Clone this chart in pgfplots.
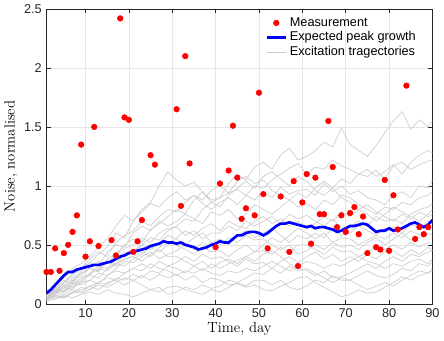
\documentclass[border=0pt]{standalone}
\usepackage{fontspec}
\usepackage{pgfplots}
\usepackage{pgfplotstable}
\pgfplotsset{compat=1.18}
\newfontfamily\arial{Liberation Sans}

\definecolor{trajgray}{RGB}{204,204,204}
\definecolor{gridgray}{RGB}{230,230,230}
\definecolor{framegray}{RGB}{38,38,38}

% measurements (day, noise)
\pgfplotstableread{
day  y
1    0.27
2    0.27
3    0.47
4    0.28
5    0.43
6    0.50
7    0.61
8    0.75
9    1.35
10   0.40
11   0.53
12   1.50
13   0.49
16   0.54
17   0.41
18   2.42
19   1.58
20   1.56
21   0.44
22   0.53
23   0.71
25   1.26
26   1.18
31   1.65
32   0.83
33   2.10
34   1.19
40   0.48
41   1.02
43   1.13
44   1.51
45   1.07
46   0.72
47   0.81
49   0.75
50   1.79
51   0.93
52   0.47
55   0.91
57   0.44
58   1.04
59   0.32
60   0.86
61   1.10
62   0.51
63   1.07
64   0.76
65   0.76
66   1.55
67   1.16
68   0.65
69   0.75
70   0.61
71   0.77
72   0.82
73   0.59
74   0.74
75   0.43
77   0.48
78   0.46
79   1.05
80   0.45
81   0.92
82   0.63
84   1.85
86   0.55
87   0.65
88   0.59
89   0.65
}\meas

% expected peak growth
\pgfplotstableread{
day y
1 0.09
2 0.12
3 0.16
4 0.20
5 0.24
6 0.27
7 0.27
8 0.29
9 0.30
10 0.31
11 0.32
12 0.33
13 0.33
14 0.34
15 0.35
16 0.36
17 0.38
18 0.40
19 0.41
20 0.43
21 0.44
22 0.45
23 0.46
24 0.47
25 0.49
26 0.50
27 0.51
28 0.53
29 0.52
30 0.52
31 0.51
32 0.52
33 0.50
34 0.49
35 0.48
36 0.46
37 0.47
38 0.48
39 0.50
40 0.51
41 0.53
42 0.52
43 0.52
44 0.55
45 0.58
46 0.58
47 0.60
48 0.61
49 0.61
50 0.60
51 0.58
52 0.60
53 0.63
54 0.66
55 0.68
56 0.68
57 0.69
58 0.68
59 0.67
60 0.66
61 0.65
62 0.66
63 0.64
64 0.65
65 0.65
66 0.64
67 0.63
68 0.61
69 0.62
70 0.64
71 0.66
72 0.66
73 0.67
74 0.68
75 0.67
76 0.64
77 0.61
78 0.62
79 0.62
80 0.64
81 0.62
82 0.63
83 0.64
84 0.66
85 0.68
86 0.69
87 0.67
88 0.65
89 0.67
90 0.71
}\mean

% excitation trajectories
\pgfplotstableread{
day t1 t2 t3 t4 t5 t6 t7 t8 t9 t10 t11 t12 t13 t14 t15 t16 t17 t18
1  .05 .08 .10 .06 .05 .08 .04 .06 .07 .03 .05 .04 .02 .05 .07 .04 .06 .03
3  .12 .13 .15 .10 .09 .11 .10 .08 .12 .06 .04 .06 .04 .07 .12 .08 .10 .07
5  .10 .20 .22 .18 .14 .16 .16 .12 .10 .10 .08 .05 .07 .06 .18 .14 .14 .05
7  .19 .17 .30 .24 .20 .14 .22 .18 .16 .14 .12 .10 .05 .10 .26 .20 .12 .09
9  .24 .28 .34 .30 .26 .22 .26 .16 .22 .18 .10 .12 .08 .09 .30 .18 .20 .14
11 .30 .35 .40 .35 .30 .25 .30 .20 .25 .20 .15 .15 .10 .12 .38 .26 .24 .12
13 .27 .42 .48 .32 .36 .30 .28 .26 .30 .17 .18 .12 .08 .16 .44 .32 .22 .18
15 .38 .48 .55 .44 .34 .36 .36 .24 .28 .24 .16 .18 .12 .14 .40 .30 .30 .22
17 .42 .60 .66 .50 .42 .34 .32 .30 .34 .28 .22 .20 .09 .18 .52 .38 .34 .20
19 .50 .56 .75 .48 .47 .42 .38 .36 .38 .26 .20 .16 .08 .22 .58 .44 .32 .26
21 .55 .70 .70 .60 .50 .45 .40 .35 .40 .30 .25 .20 .06 .20 .62 .42 .38 .30
23 .52 .80 .78 .66 .56 .50 .44 .40 .36 .34 .22 .24 .09 .16 .70 .50 .42 .28
25 .63 .86 .85 .62 .52 .46 .40 .44 .42 .30 .28 .20 .12 .12 .66 .56 .48 .34
27 .68 1.00 .82 .70 .60 .52 .48 .38 .46 .36 .26 .25 .10 .14 .74 .54 .44 .30
29 .74 1.12 .90 .66 .64 .58 .52 .42 .40 .32 .32 .22 .14 .08 .80 .62 .50 .28
31 .80 1.05 .95 .70 .65 .55 .50 .45 .40 .35 .30 .25 .15 .10 .78 .66 .56 .24
33 .76 1.00 .88 .76 .58 .50 .46 .50 .36 .40 .26 .20 .12 .14 .86 .72 .62 .28
35 .88 1.03 .92 .72 .62 .56 .42 .46 .32 .36 .32 .24 .10 .12 .92 .70 .58 .26
37 .95 .95 .85 .68 .55 .60 .48 .52 .36 .42 .28 .18 .08 .16 .88 .80 .64 .30
39 .86 .88 .80 .78 .60 .52 .44 .48 .30 .38 .34 .22 .12 .13 .96 .86 .68 .26
41 .90 .90 .86 .75 .60 .55 .45 .50 .35 .40 .30 .20 .10 .15 1.00 .82 .62 .24
43 1.02 .94 .90 .80 .66 .50 .40 .56 .38 .36 .34 .16 .14 .20 .94 .92 .70 .28
45 1.10 .97 .84 .72 .62 .58 .46 .52 .34 .32 .37 .17 .18 .18 1.04 .98 .66 .26
47 1.05 .92 .92 .76 .70 .62 .50 .58 .40 .38 .40 .14 .15 .22 1.08 1.04 .64 .30
49 1.16 1.00 .88 .84 .66 .56 .44 .54 .44 .34 .36 .16 .20 .26 1.02 .98 .70 .28
51 1.20 .98 .95 .80 .70 .60 .50 .55 .45 .35 .42 .12 .20 .25 1.05 1.08 .74 .32
53 1.14 1.05 .90 .76 .74 .64 .56 .50 .42 .30 .45 .11 .16 .30 .96 1.12 .68 .36
55 1.26 1.10 .99 .82 .68 .58 .52 .46 .48 .36 .40 .15 .20 .26 .92 1.06 .72 .32
57 1.32 1.15 .93 .88 .76 .52 .58 .50 .44 .40 .34 .18 .14 .32 .88 1.00 .66 .28
59 1.22 1.19 .96 .82 .72 .58 .64 .42 .50 .35 .30 .22 .12 .28 .94 1.08 .70 .32
61 1.25 1.10 .97 .85 .75 .55 .60 .45 .50 .40 .28 .23 .15 .30 .90 1.04 .64 .36
63 1.30 1.16 .92 .80 .70 .60 .55 .50 .46 .44 .24 .18 .20 .26 .98 .96 .68 .34
65 1.37 1.14 1.02 .88 .66 .56 .60 .46 .42 .38 .28 .14 .18 .22 1.04 .92 .74 .30
67 1.33 1.22 .95 .84 .72 .64 .52 .52 .48 .42 .22 .10 .24 .18 .98 .98 .70 .34
69 1.49 1.17 1.00 .92 .64 .58 .56 .48 .44 .36 .23 .06 .20 .22 1.06 .90 .78 .32
71 1.35 1.14 .93 .90 .65 .60 .55 .50 .45 .40 .26 .08 .20 .20 1.02 .86 .74 .36
73 1.30 1.10 .96 .84 .70 .66 .50 .46 .40 .36 .30 .12 .16 .24 1.10 .80 .80 .40
75 1.25 1.08 .90 .80 .66 .62 .54 .52 .44 .42 .34 .09 .12 .28 1.14 .84 .76 .36
77 1.34 1.13 .88 .76 .74 .58 .58 .56 .48 .38 .30 .10 .15 .24 1.08 .78 .70 .34
79 1.45 1.06 .84 .82 .70 .64 .55 .50 .46 .44 .36 .14 .18 .22 1.12 .74 .76 .30
81 1.55 1.17 .92 .80 .72 .65 .60 .55 .50 .45 .40 .18 .15 .25 1.18 .70 .82 .34
83 1.63 1.20 .95 .86 .68 .60 .56 .60 .46 .40 .36 .23 .20 .30 1.10 .76 .78 .32
85 1.48 1.14 .90 .84 .76 .68 .62 .54 .52 .46 .42 .20 .24 .28 1.20 .72 .74 .36
87 1.56 1.18 1.00 .90 .80 .64 .58 .56 .48 .42 .40 .24 .28 .34 1.26 .78 .70 .38
89 1.50 1.21 .98 .92 .82 .70 .64 .60 .52 .48 .44 .26 .26 .32 1.30 .74 .76 .34
90 1.55 1.22 1.05 .95 .85 .70 .62 .58 .50 .45 .45 .28 .30 .35 1.28 .76 .80 .38
}\traj

\begin{document}
\begin{tikzpicture}
\begin{axis}[
    scale only axis,
    width=288pt,
    height=220pt,
    xmin=1, xmax=90,
    ymin=0, ymax=2.5,
    xtick={10,20,...,90},
    ytick={0,0.5,...,2.5},
    grid=major,
    major grid style={gridgray, line width=0.4pt},
    axis line style={framegray, line width=0.4pt},
    tick style={framegray, line width=0.4pt},
    tick align=inside,
    major tick length=3pt,
    /pgf/number format/assume math mode=true,
    ticklabel style={font=\arial\fontsize{9.5}{11}\selectfont, text=framegray},
    xlabel={Time, day},
    ylabel={Noise, normalised},
    label style={font=\fontsize{11}{13}\selectfont},
    xlabel style={yshift=3pt},
    ylabel style={yshift=-2pt},
    legend style={
        at={(0.975,0.99)},
        anchor=north east,
        draw=none,
        fill=none,
        font=\arial\fontsize{9.5}{11}\selectfont,
        row sep=-1.5pt,
        legend cell align=left,
    },
    legend image code/.code={
        \draw[#1] (0cm,0cm) -- (0.5cm,0cm);
    },
]
% legend entries in the original order
\addlegendimage{only marks, mark=*, mark size=2.1pt, color=red, legend image code/.code={\draw[red, fill=red] (0.25cm,0cm) circle (2.1pt);}}
\addlegendentry{Measurement}
\addlegendimage{blue, line width=2pt}
\addlegendentry{Expected peak growth}
\addlegendimage{trajgray, line width=0.5pt}
\addlegendentry{Excitation tragectories}

\addplot[only marks, mark=*, mark size=2.1pt, color=red, forget plot] table[x=day, y=y] {\meas};
\pgfplotsinvokeforeach{1,...,18}{
    \addplot[trajgray, line width=0.5pt, forget plot] table[x=day, y=t#1] {\traj};
}
\addplot[blue, line width=2pt, forget plot] table[x=day, y=y] {\mean};
\end{axis}
\end{tikzpicture}
\end{document}
